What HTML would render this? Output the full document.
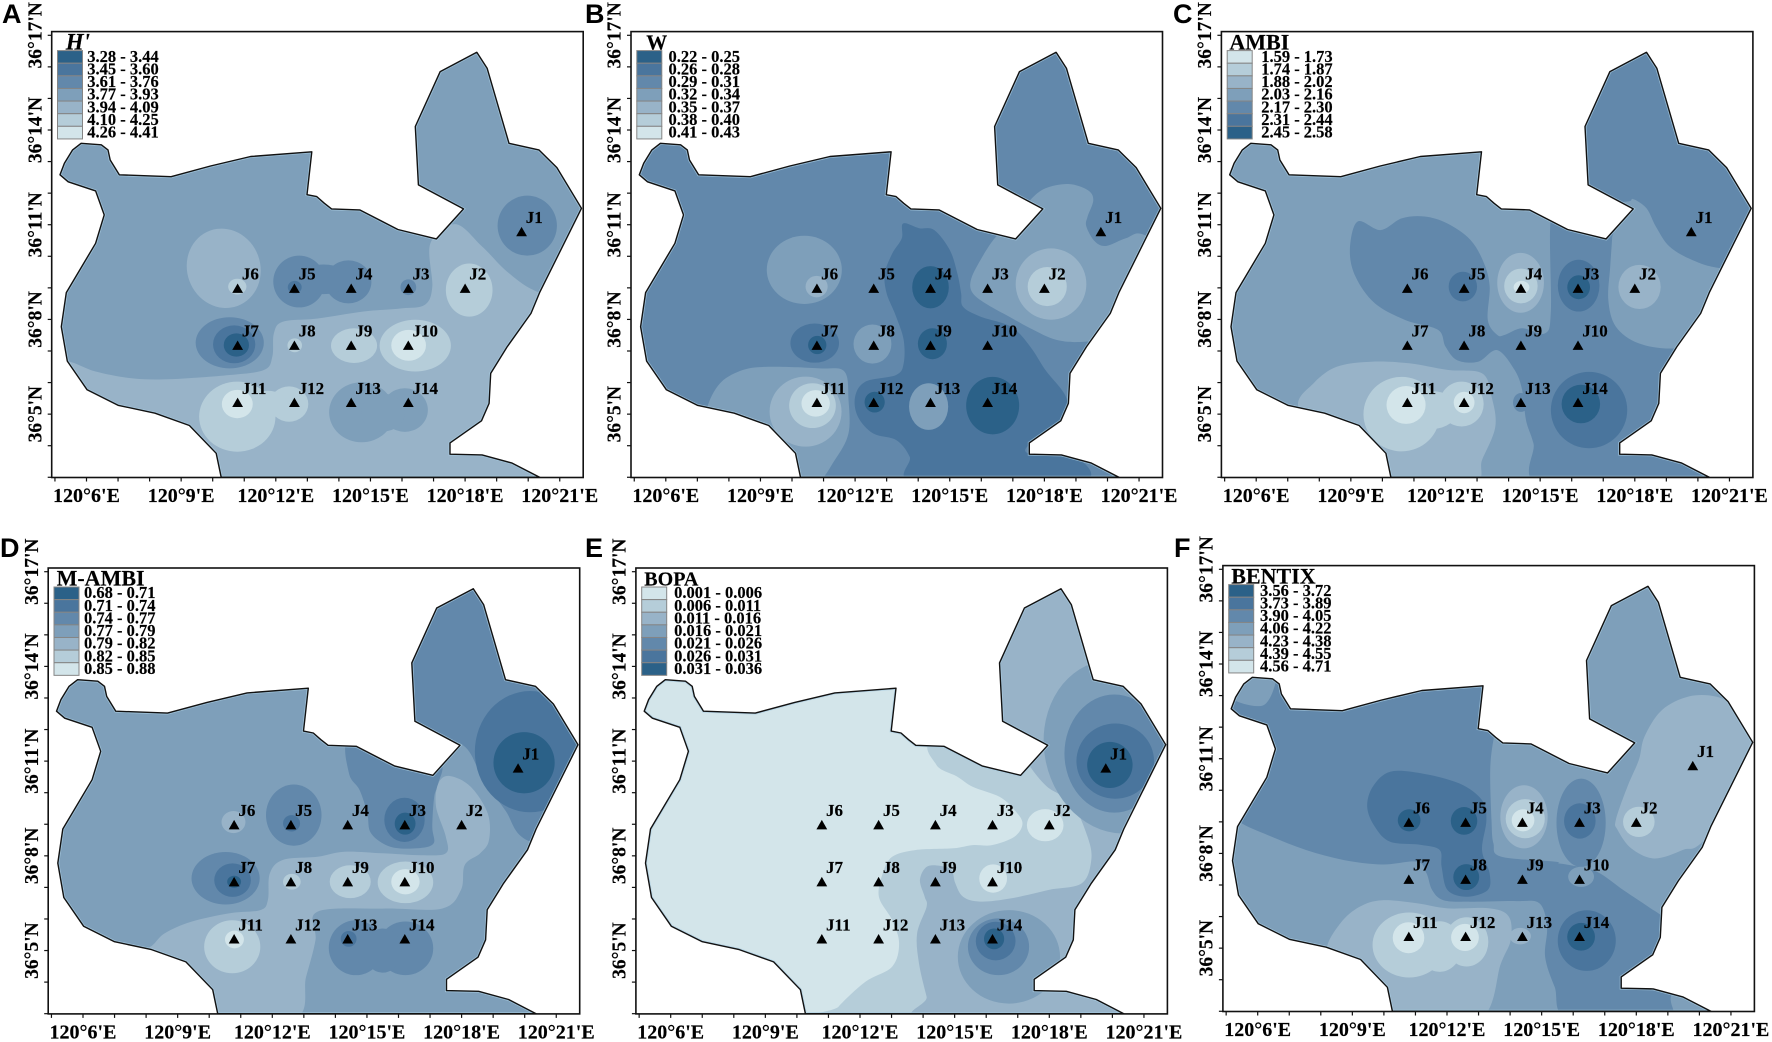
<!DOCTYPE html>
<html lang="en">
<head>
<meta charset="utf-8">
<title>Benthic index contour maps</title>
<style>
html,body{margin:0;padding:0;background:#fff;}
svg{display:block;}
text{font-family:"Liberation Serif",serif;font-weight:bold;fill:#000;stroke:#000;stroke-width:0.15px;}
.letter{font-family:"Liberation Sans",sans-serif;font-size:27px;stroke:none;}
</style>
</head>
<body>
<svg id="chart" xmlns="http://www.w3.org/2000/svg" width="1772" height="1042" viewBox="0 0 1772 1042"></svg>
<script>
// ----- shared data (longitude minutes past 120°, latitude minutes past 36°) -----
const classColors = ['#2b6188','#4a759d','#6288ab','#7e9fba','#98b3c8','#b5cdd9','#d3e5ea'];
const lonTicks = [5,6,7,8,9,10,11,12,13,14,15,16,17,18,19,20,21];
const latTicks = [3,4,5,6,7,8,9,10,11,12,13,14,15,16,17];
const lonLabelValues = [6,9,12,15,18,21];
const lonLabels = ["120°6'E","120°9'E","120°12'E","120°15'E","120°18'E","120°21'E"];
const latLabelValues = [17,14,11,8,5];
const latLabels = ["36°17'N","36°14'N","36°11'N","36°8'N","36°5'N"];
const siteNames = ['J1','J2','J3','J4','J5','J6','J7','J8','J9','J10','J11','J12','J13','J14'];
const siteLon = [19.79,18.0,16.2,14.39,12.59,10.79,10.79,12.59,14.39,16.2,10.79,12.59,14.39,16.2];
const siteLat = [10.78,8.985,8.985,8.985,8.985,8.985,7.18,7.18,7.18,7.18,5.37,5.37,5.37,5.37];
const boundaryLon = [5.16,5.3,5.56,5.83,6.47,6.68,6.75,7.04,8.68,9.93,11.2,13.14,12.99,13.3,13.54,13.77,14.66,15.87,17.09,17.95,16.52,16.42,17.21,18.37,18.7,19.39,20.34,20.91,21.69,20.36,20.09,19.33,18.81,18.76,18.52,17.52,17.52,18.54,19.49,20.36,10.27,10.11,9.26,8.17,7.0,6.02,5.39,5.2,5.36,6.29,6.56,6.29,5.42];
const boundaryLat = [12.58,12.95,13.37,13.58,13.53,13.37,13.05,12.58,12.52,12.86,13.16,13.31,11.95,11.89,11.68,11.5,11.47,10.85,10.55,11.5,12.26,14.11,15.85,16.46,15.95,13.58,13.37,12.81,11.52,8.85,8.19,7.13,6.29,5.34,4.79,4.09,3.73,3.71,3.45,3.0,3.0,3.76,4.64,5.03,5.28,5.77,6.68,7.77,8.85,10.41,11.31,12.07,12.36];

// ----- panel A: H' -----
const legendA = ['3.28 - 3.44','3.45 - 3.60','3.61 - 3.76','3.77 - 3.93','3.94 - 4.09','4.10 - 4.25','4.26 - 4.41'];
const legendClassesA = [0,1,2,3,4,5,6];
const regionsA = [
 [4,[5.39,6.68,6.29,6.35,7.5,6.13,8.72,6.11,10.54,6.24,11.63,6.4,11.89,6.82,11.94,7.56,12.23,7.93,13.33,8.03,14.78,8.25,15.99,8.35,16.72,8.46,16.96,9.04,16.9,10.41,17.69,11.02,18.54,10.31,19.39,9.46,20.36,8.85,22,8.5,22,2.5,4.5,2.5,4.5,6.68]]
];
const blobsA = [
 [4,10.35,9.62,1.16,1.27,-20],[5,10.78,9.04,.29,.25],
 [2,12.74,9.2,.82,.82],[2,14.3,9.19,.73,.68],[2,13.51,9.27,.85,.47],[1,12.6,9.02,.22,.2],
 [2,16.2,9.02,.25,.25],[5,18.13,8.93,.74,.84],[2,19.97,10.97,.94,.95],
 [2,10.54,7.26,1.08,.81],[1,10.68,7.21,.67,.6],[0,10.75,7.19,.4,.37],
 [5,12.6,7.18,.23,.22],[5,14.48,7.17,.73,.55],[5,16.42,7.17,1.13,.82],[6,16.21,7.18,.55,.49],
 [3,14.72,5.06,1.03,.95],[3,16.09,5.13,.73,.69],[3,15.4,5.05,.7,.6],
 [5,10.78,4.92,1.21,1.11],[5,12.42,5.32,.61,.56],[5,11.75,5.34,.6,.4],[6,10.78,5.32,.49,.45]
];

// ----- panel B: W -----
const legendB = ['0.22 - 0.25','0.26 - 0.28','0.29 - 0.31','0.32 - 0.34','0.35 - 0.37','0.38 - 0.40','0.41 - 0.43'];
const legendClassesB = [0,1,2,3,4,5,6];
const regionsB = [
 [3,[16.45,10.6,17.06,11.15,17.55,11.78,18.03,12.15,18.76,12.29,19.37,12.1,19.55,11.78,19.37,11.26,19.33,10.94,19.61,10.46,19.97,10.33,20.58,10.57,21.18,10.67,22.52,9.67,21.18,7.56,19.37,7.3,18.4,7.35,17.55,7.72,16.88,8.09,16.21,8.46,15.73,8.83,15.67,9.25,15.97,9.88]],
 [1,[13.52,11.04,14.03,10.89,14.51,10.83,15.0,10.2,15.24,9.46,15.36,8.83,15.42,8.4,15.97,8.09,16.94,7.77,17.55,7.14,18.03,6.4,18.7,5.5,18.52,4.76,17.55,4.07,17.55,3.73,19.12,3.55,19.0,2.8,13.97,2.8,13.73,3.65,13.3,4.18,12.57,4.39,12.09,4.92,12.0,5.55,12.33,6.03,13.3,6.24,13.54,6.61,13.54,7.35,13.3,8.09,13.0,8.83,12.94,9.46,13.18,10.09,13.48,10.57]],
 [3,[7.3,5.18,7.72,5.98,8.45,6.4,9.3,6.5,10.88,6.45,11.66,6.35,11.79,5.45,11.79,4.39,11.36,3.55,10.75,2.81,9.66,2.81,7.24,4.39]]
];
const blobsB = [
 [4,18.21,9.12,1.12,1.13],[5,18.09,9.04,.62,.62],
 [0,14.39,9.02,.58,.67],[0,14.45,7.23,.46,.49],
 [1,10.72,7.25,.77,.62],[0,10.8,7.19,.29,.29],
 [3,10.39,9.57,1.19,1.08],[4,10.78,9.04,.35,.34],[3,12.55,7.22,.6,.62],
 [4,10.43,5.08,1.14,1.11],[5,10.65,5.27,.74,.71],[6,10.75,5.34,.45,.42],
 [0,12.62,5.38,.32,.33],[3,14.33,5.24,.62,.74],[0,16.36,5.27,.84,.91]
];

// ----- panel C: AMBI -----
const legendC = ['1.59 - 1.73','1.74 - 1.87','1.88 - 2.02','2.03 - 2.16','2.17 - 2.30','2.31 - 2.44','2.45 - 2.58'];
const legendClassesC = [6,5,4,3,2,1,0];
const regionsC = [
 [2,[16.19,11.78,17.7,11.73,17.95,11.81,18.37,11.52,18.67,10.94,19.1,10.31,19.83,9.88,20.74,9.62,22.74,9.46,22.74,17.06,16.19,17.06]],
 [2,[9.21,11.1,9.94,10.83,10.61,11.2,11.34,11.26,12.06,11.04,12.79,10.52,13.22,9.78,13.4,9.04,13.34,7.98,13.64,7.51,13.88,7.51,14.43,7.72,15.16,7.56,15.34,8.3,15.34,11.2,15.82,11.2,17.28,11,17.28,10.57,17.22,9.67,17.16,8.62,17.4,7.77,18.13,7.24,19.22,7.08,20.31,7.3,20,5,20,2.7,15.1,2.7,14.79,4.07,14.55,4.81,14.43,5.76,14.19,6.4,13.64,7.03,13.03,6.66,12.37,6.71,12.0,7.14,11.76,7.67,10.73,7.98,9.76,8.51,9.15,9.35,8.97,10.2]],
 [4,[7.33,5.24,7.82,5.98,8.55,6.5,9.64,6.66,10.85,6.61,12.06,6.4,13.16,6.29,13.46,5.55,13.58,4.6,13.16,3.55,12.85,2.81,10.25,2.81,8.18,4.07]]
];
const blobsC = [
 [2,14.39,5.37,.25,.3],[1,12.55,9.04,.45,.47],
 [4,14.38,9.16,.74,.95],[5,14.39,9.06,.53,.55],[6,14.41,9.02,.25,.2],
 [1,16.22,9.07,.66,.82],[0,16.22,9.02,.36,.38],[4,18.15,9.03,.67,.7],
 [5,10.61,5.0,1.21,1.18],[5,12.51,5.32,.7,.71],[5,11.58,5.13,.8,.6],
 [6,10.75,5.29,.62,.6],[6,12.59,5.37,.33,.34],
 [1,16.55,5.13,1.21,1.21],[0,16.29,5.32,.61,.61]
];

// ----- panel D: M-AMBI -----
const legendD = ['0.68 - 0.71','0.71 - 0.74','0.74 - 0.77','0.77 - 0.79','0.79 - 0.82','0.82 - 0.85','0.85 - 0.88'];
const legendClassesD = [0,1,2,3,4,5,6];
const regionsD = [
 [2,[16.22,11.88,17.96,11.56,18.65,10.51,19.38,9.45,20.17,8.45,22.77,8.08,22.77,17.58,16.22,17.58]],
 [2,[14.43,11.7,15.9,11.5,17.3,11,17.26,10.29,17.13,9.87,17.07,8.92,17.11,8.39,16.59,8.24,15.74,8.29,15.13,8.71,15.01,9.34,14.77,10.08,14.43,10.61]],
 [4,[8.04,5.07,8.58,5.54,9.43,5.91,10.65,6.18,11.62,6.28,11.86,6.6,11.92,7.44,12.34,7.87,13.43,7.97,14.28,8.13,15.5,8.08,16.71,8.02,17.5,8.08,17.5,8.61,17.19,9.56,17.26,10.29,17.62,10.53,18.29,10.19,18.83,9.34,18.87,8.5,18.59,8.08,18.1,7.71,17.98,6.92,17.38,6.33,15.5,6.33,13.43,6.23,13.37,5.33,13.07,4.17,12.65,2.8,9.43,2.8,7.0,4.91]]
];
const blobsD = [
 [1,20.17,11.3,1.75,1.92],[0,19.98,10.95,.97,.97],
 [1,16.19,9.14,.64,.7],[0,16.21,9.02,.33,.35],
 [2,12.68,9.29,.88,.97],[1,12.61,9.03,.27,.26],[4,10.77,9.07,.38,.35],
 [2,10.52,7.29,1.08,.83],[1,10.74,7.23,.58,.53],[0,10.79,7.18,.22,.19],
 [5,14.47,7.18,.65,.52],[5,16.22,7.16,.88,.66],[6,16.22,7.18,.45,.4],[5,12.62,7.18,.28,.25],
 [5,10.73,5.12,.89,.84],[6,10.8,5.35,.3,.28],
 [2,14.65,5.09,.86,.87],[2,16.22,5.07,.88,.85],[2,15.5,5.0,.6,.7],[1,14.42,5.37,.25,.25]
];

// ----- panel E: BOPA -----
const legendE = ['0.001 - 0.006','0.006 - 0.011','0.011 - 0.016','0.016 - 0.021','0.021 - 0.026','0.026 - 0.031','0.031 - 0.036'];
const legendClassesE = [6,5,4,3,2,1,0];
const regionsE = [
 [5,[14.42,11.67,17.99,11.67,22.85,11.67,22.85,2.8,11.08,2.8,11.32,3.22,12.17,4.01,13.02,4.49,13.24,5.23,13.02,5.96,12.6,6.7,12.72,7.44,13.02,7.97,13.75,8.18,14.96,8.24,15.57,8.34,16.18,8.34,16.9,8.61,17.15,9.03,16.9,9.45,16.42,9.87,15.57,10.19,15.08,10.51,14.42,10.88]],
 [4,[16.3,17.58,22.85,17.58,22.85,2.8,14.3,2.8,14.11,3.54,13.87,4.59,13.81,5.54,14.11,6.39,14.05,6.7,13.9,7.23,14.11,7.65,14.54,7.68,14.9,7.55,15.02,7.13,15.27,6.7,15.81,6.55,16.78,6.65,17.99,6.92,19.03,7.13,19.33,7.87,19.21,8.61,18.72,9.66,17.93,10.19,17.39,10.82,17.15,11.24,16.3,12.09]]
];
const blobsE = [
 [6,17.87,8.97,.58,.51],[6,16.22,7.28,.44,.45],
 [3,20.18,11.46,2.34,2.77,-12],[2,20.06,11.24,1.58,1.87],[1,20.09,11.0,1.23,1.19],[0,19.92,10.88,.72,.73],
 [3,16.72,4.8,1.62,1.48],[2,16.39,5.12,.97,.9],[1,16.3,5.3,.63,.61],[0,16.25,5.37,.32,.33]
];

// ----- panel F: BENTIX -----
const legendF = ['3.56 - 3.72','3.73 - 3.89','3.90 - 4.05','4.06 - 4.22','4.23 - 4.38','4.39 - 4.55','4.56 - 4.71'];
const legendClassesF = [0,1,2,3,4,5,6];
const regionsF = [
 [2,[4.5,9.69,5.41,9.0,6.32,8.58,7.53,8.11,8.74,7.79,9.95,7.65,11.05,7.74,11.35,7.37,11.53,6.84,11.89,6.52,12.74,6.47,14.2,6.49,14.93,6.42,15.17,5.68,15.11,4.73,15.41,3.78,15.9,2.72,18.93,2.72,19.11,3.52,19.66,4.84,18.93,5.89,18.38,6.31,17.59,6.84,16.75,7.42,15.9,7.63,15.53,7.69,15.41,7.74,13.71,7.9,13.47,8.32,13.41,9.06,13.37,10.64,13.47,11.59,13.6,12,13.6,14.5,4.5,14.5]],
 [3,[5.0,13.02,5.4,13.8,6.55,13.8,6.19,12.7]],
 [4,[17.35,9.06,17.72,10.12,18.08,10.96,18.26,11.7,18.81,12.54,19.66,12.97,20.51,12.97,21.11,12.65,22.69,11.49,20.26,8.53,19.47,8.11,18.57,7.84,17.84,8.16,17.41,8.74]],
 [1,[9.47,9.48,9.65,10.12,10.2,10.59,11.17,10.54,12.38,10.22,13.11,9.69,13.25,9.06,13.11,8.11,13.35,7.37,13.29,6.84,12.62,6.63,12.02,6.84,11.83,7.58,11.77,8.11,11.17,8.27,10.2,8.37,9.71,8.85]],
 [4,[8.2,4.99,8.62,5.79,9.23,6.31,9.95,6.52,11.05,6.42,12.02,6.26,13.35,6.26,13.96,6.0,14.02,5.26,13.71,4.52,12.99,2.7,10.2,2.7,8.74,4.62]]
];
const blobsF = [
 [5,18.08,9.0,.5,.48],[0,10.8,9.05,.36,.35],[0,12.54,9.03,.42,.44],[0,12.61,7.25,.41,.41],
 [2,16.25,8.97,.78,1.4],[1,16.21,9.03,.5,.56],
 [4,14.44,9.16,.75,1.0],[5,14.48,9.1,.62,.62],[6,14.41,9.05,.36,.35],
 [3,16.25,7.26,.41,.32],[4,14.32,5.38,.34,.26],
 [5,10.8,5.1,1.16,1.03],[5,12.62,5.2,.69,.78],[5,11.77,5.05,.7,.8],
 [6,10.78,5.33,.5,.49],[6,12.57,5.34,.44,.43],
 [1,16.43,5.24,.92,.96],[0,16.25,5.36,.44,.44]
];

// ----- panel definitions -----
const panels = [
 {key:'a',letter:'A',title:"H'",italic:true,titleSize:23,titleDx:-20.7,textDx:0.8,base:3,legend:legendA,classes:legendClassesA,regions:regionsA,blobs:blobsA,ox:86.5,oy:35.3,lx:2,ly:23},
 {key:'b',letter:'B',title:'W',italic:false,titleSize:21,titleDx:-19.5,textDx:2.7,base:2,legend:legendB,classes:legendClassesB,regions:regionsB,blobs:blobsB,ox:665.8,oy:35.3,lx:585,ly:23},
 {key:'c',letter:'C',title:'AMBI',italic:false,titleSize:22,titleDx:-26.8,textDx:5,base:3,legend:legendC,classes:legendClassesC,regions:regionsC,blobs:blobsC,ox:1256.2,oy:35.3,lx:1173,ly:23},
 {key:'d',letter:'D',title:'M-AMBI',italic:false,titleSize:22,titleDx:-26.4,textDx:1,base:3,legend:legendD,classes:legendClassesD,regions:regionsD,blobs:blobsD,ox:83,oy:571.7,lx:0,ly:557},
 {key:'e',letter:'E',title:'BOPA',italic:false,titleSize:20,titleDx:-26.4,textDx:3.4,base:6,legend:legendE,classes:legendClassesE,regions:regionsE,blobs:blobsE,ox:670.7,oy:571.7,lx:585,ly:557},
 {key:'f',letter:'F',title:'BENTIX',italic:false,titleSize:22,titleDx:-26.4,textDx:2.3,base:3,legend:legendF,classes:legendClassesF,regions:regionsF,blobs:blobsF,ox:1257.7,oy:569.3,lx:1174,ly:557}
];

// ----- drawing -----
const NS = 'http://www.w3.org/2000/svg';
const root = document.getElementById('chart');
function mk(tag, attrs, parent){
  const el = document.createElementNS(NS, tag);
  for (const k in attrs) el.setAttribute(k, attrs[k]);
  parent.appendChild(el);
  return el;
}
function smoothClosed(pts){
  const n = pts.length;
  let d = 'M' + pts[0][0].toFixed(1) + ' ' + pts[0][1].toFixed(1);
  for (let i = 0; i < n; i++){
    const p0 = pts[(i-1+n)%n], p1 = pts[i], p2 = pts[(i+1)%n], p3 = pts[(i+2)%n];
    const c1x = p1[0]+(p2[0]-p0[0])/6, c1y = p1[1]+(p2[1]-p0[1])/6;
    const c2x = p2[0]-(p3[0]-p1[0])/6, c2y = p2[1]-(p3[1]-p1[1])/6;
    d += 'C' + c1x.toFixed(1)+' '+c1y.toFixed(1)+' '+c2x.toFixed(1)+' '+c2y.toFixed(1)+' '+p2[0].toFixed(1)+' '+p2[1].toFixed(1);
  }
  return d + 'Z';
}
const PX_LON = 31.55, PX_LAT = 31.57;

panels.forEach(function(panel){
  const xScale = function(lon){ return panel.ox + (lon - 6) * PX_LON; };
  const yScale = function(lat){ return panel.oy + (17 - lat) * PX_LAT; };

  const g = mk('g', {}, root);
  
  

  const letter = mk('text', {x: panel.lx, y: panel.ly, class: 'letter'}, g);
  letter.textContent = panel.letter;
  
  

  // study area
  const boundaryPts = boundaryLon.map(function(lon, i){ return xScale(lon).toFixed(1) + ',' + yScale(boundaryLat[i]).toFixed(1); }).join(' ');
  const clip = mk('clipPath', {id: 'clip-' + panel.key}, g);
  mk('polygon', {points: boundaryPts}, clip);

  const contours = mk('g', {'clip-path': 'url(#clip-' + panel.key + ')'}, g);
  
  

  const base = mk('polygon', {points: boundaryPts, fill: classColors[panel.base]}, contours);
  
  

  panel.regions.forEach(function(region){
    const flat = region[1], pts = [];
    for (let i = 0; i < flat.length; i += 2) pts.push([xScale(flat[i]), yScale(flat[i+1])]);
    const path = mk('path', {d: smoothClosed(pts), fill: classColors[region[0]]}, contours);
    
    
  });

  panel.blobs.forEach(function(blob){
    const cx = xScale(blob[1]), cy = yScale(blob[2]);
    const attrs = {cx: cx, cy: cy, rx: blob[3]*PX_LON, ry: blob[4]*PX_LAT, fill: classColors[blob[0]]};
    if (blob[5]) attrs.transform = 'rotate(' + blob[5] + ' ' + cx + ' ' + cy + ')';
    const e = mk('ellipse', attrs, contours);
    
    
  });

  const inner = mk('polygon', {points: boundaryPts, fill: 'none', stroke: '#a9cde3', 'stroke-width': 3, 'stroke-opacity': 0.7}, contours);
  
  

  const outline = mk('polygon', {points: boundaryPts, fill: 'none', stroke: '#111', 'stroke-width': 1.4, 'stroke-linejoin': 'round'}, g);
  
  

  // frame
  const frame = mk('rect', {x: panel.ox - 34.8, y: panel.oy - 3.7, width: 531.5, height: 445.9, fill: 'none', stroke: '#111', 'stroke-width': 1.6}, g);
  
  

  // ticks
  const frameBottom = panel.oy + 442.2, frameLeft = panel.ox - 34.8;
  lonTicks.forEach(function(lon){
    const t = mk('line', {x1: xScale(lon), x2: xScale(lon), y1: frameBottom, y2: frameBottom + 4, stroke: '#111', 'stroke-width': 1.2}, g);
    
    
  });
  latTicks.forEach(function(lat){
    const t = mk('line', {x1: frameLeft - 4, x2: frameLeft, y1: yScale(lat), y2: yScale(lat), stroke: '#111', 'stroke-width': 1.2}, g);
    
    
  });
  lonLabelValues.forEach(function(lon, i){
    const t = mk('text', {x: xScale(lon), y: panel.oy + 466.8, 'text-anchor': 'middle', 'font-size': 20}, g);
    t.textContent = lonLabels[i];
    
    
  });
  latLabelValues.forEach(function(lat, i){
    const lx = panel.ox - 45.2, ly = yScale(lat);
    const t = mk('text', {x: lx, y: ly, 'text-anchor': 'middle', 'font-size': 19.5, transform: 'rotate(-90 ' + lx + ' ' + ly + ')'}, g);
    t.textContent = latLabels[i];
    
    
  });

  // sites
  siteNames.forEach(function(name, i){
    const sx = xScale(siteLon[i]), sy = yScale(siteLat[i]);
    const tri = mk('polygon', {points: (sx-5.4)+','+(sy+4.6)+' '+(sx+5.4)+','+(sy+4.6)+' '+sx+','+(sy-4.8), fill: '#000'}, g);
    
    
    const t = mk('text', {x: sx + 4.2, y: sy - 8.6, 'font-size': 17}, g);
    t.textContent = name;
    
    
  });

  // legend
  const legendGroup = mk('g', {}, g);
  
  
  const lgX = panel.ox - 29, lgY = panel.oy + 15.3, rowH = 12.62;
  const title = mk('text', {x: panel.ox + panel.titleDx, y: panel.oy + 14, 'font-size': panel.titleSize}, legendGroup);
  if (panel.italic) title.setAttribute('font-style', 'italic');
  title.textContent = panel.title;
  
  
  panel.legend.forEach(function(label, i){
    const sw = mk('rect', {x: lgX, y: lgY + i*rowH, width: 25, height: rowH, fill: classColors[panel.classes[i]], stroke: '#858585', 'stroke-width': 1}, legendGroup);
    
    
    const t = mk('text', {x: panel.ox + panel.textDx, y: lgY + i*rowH + 11.2, 'font-size': 16.5}, legendGroup);
    t.textContent = label;
    
    
  });
});
</script>
</body>
</html>
